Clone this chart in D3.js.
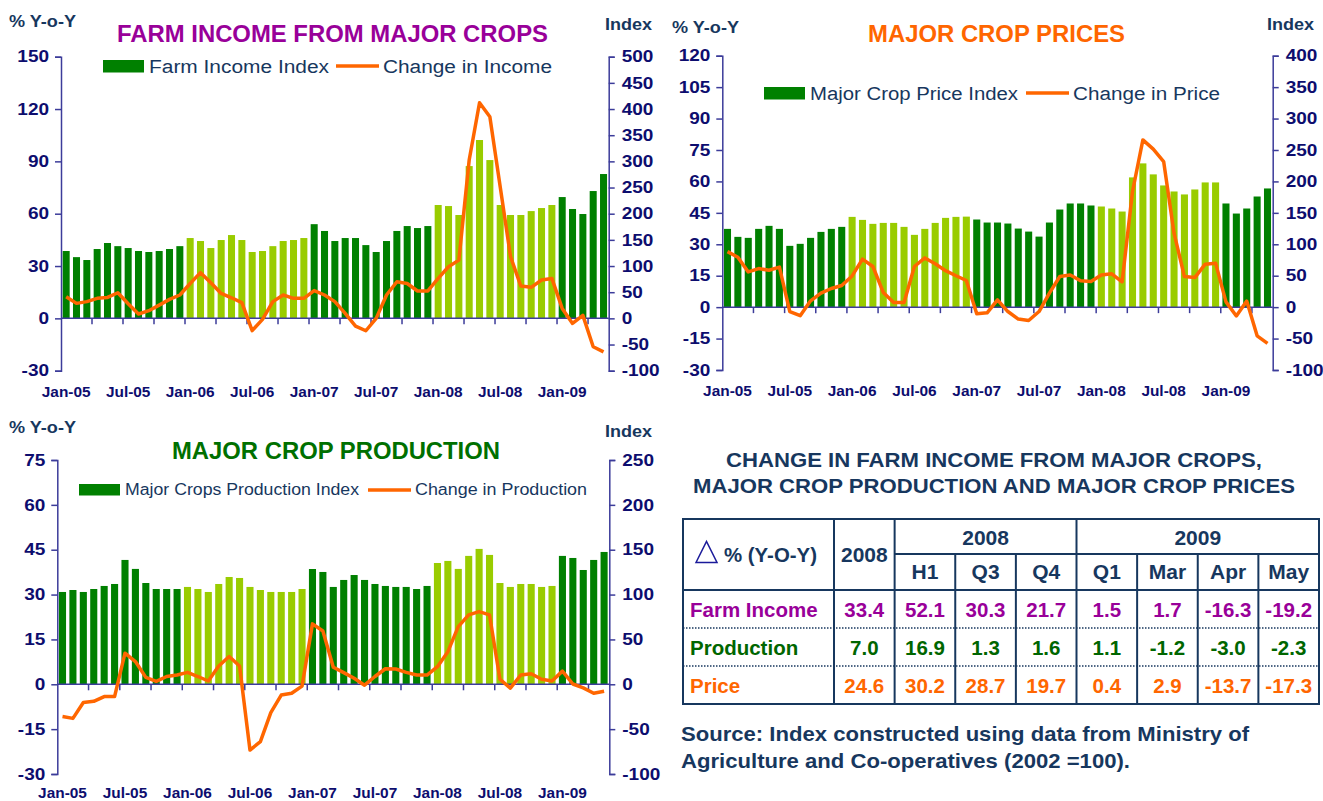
<!DOCTYPE html>
<html>
<head>
<meta charset="utf-8">
<script src="https://cdn.jsdelivr.net/npm/d3@7"></script>
<style>
  body { margin: 0; background: #fff; }
  text { font-family: "Liberation Sans", Arial, sans-serif; }
</style>
</head>
<body>
<div id="canvas"></div>
<script>
// months Jan-05 .. May-09
const months = d3.timeMonths(new Date(2005, 0, 1), new Date(2009, 5, 1)).map(d3.timeFormat('%b-%y'))
const xLabels = ['Jan-05','Jul-05','Jan-06','Jul-06','Jan-07','Jul-07','Jan-08','Jul-08','Jan-09']
const darkYears = ['05','07','09']

// farm income
const incomeIndex = [128.7,117,111.5,132.5,144,138,134.4,128.7,126.8,128.7,132.5,138,
  153.5,147.8,134.4,149.7,159.2,149.7,126.8,128.7,138,147.8,149.7,153.5,
  180,167,147.8,153.5,153.5,140,126.8,147.8,167,176.4,172.6,176.4,
  216.6,214.6,197.5,291,340.8,302.5,216.6,197.5,197.5,205,210.8,216.6,
  231.8,209,199.4,243.3,275.8]
const incomeChange = [12.4,8.6,9.6,11.5,12,14.7,8.4,2.5,4.4,7.6,10.9,13.4,
  20,26.2,20.4,14.3,11.8,9,-7,-0.6,9.6,13.4,11.5,11.5,
  15.9,13.4,9.6,2.9,-4.4,-7.1,0,13.4,21,20,15.7,15.7,
  22.9,29.6,33.4,90.8,123.6,115.6,75.5,35.4,18.5,17.8,22,22.9,
  5.7,-2.9,1.7,-16.3,-19.2]

// crop prices
const priceIndex = [124.5,111.8,110.2,124.5,129.3,124.5,97.5,100.7,110.2,119.7,124.5,127.7,
  143.6,138.8,132.5,134,134,127.7,115,124.5,134,142,143.6,144,
  139.4,134.6,134.6,133,125,120.2,112.2,134.6,155.3,164.9,164.9,161.7,
  160.1,156.9,152.1,206.4,228.7,211.2,193.6,184,179.3,187.2,198.4,198.4,
  164.9,148.9,156.9,176,188.8]
const priceChange = [26.5,23.8,16.8,18.4,17.6,19.1,-2.1,-4.1,3,6.7,8.9,10.3,
  14.9,22.9,19.4,7,2.2,2.2,19.4,23.5,20.7,17.4,15,12.7,
  -3.2,-2.7,3.5,-2.1,-5.7,-6.4,-2.1,6.7,14.6,15.3,12.6,12.2,
  15.3,15.9,12.1,55.2,79.8,75.4,69.5,35.3,14.6,14.1,20.5,21,
  2.5,-4.2,2.9,-13.7,-17.3]

// crop production
const prodIndex = [102.9,105.1,102.9,106.2,109.6,111.8,138.6,128.6,112.9,106.2,106.2,106.2,
  108.5,106.2,102.9,111.8,119.6,118.5,108.5,105.1,102.9,102.9,102.9,106.2,
  128.5,125.2,108.5,116.3,121.8,116.3,111.8,109.6,108.5,108.5,106.2,109.6,
  135.2,137.5,128.6,143.1,150.9,144.2,112.9,108.5,111.8,111.8,108.5,109.6,
  143.1,140.8,127.4,138.6,147.5]
const prodChange = [-10.8,-11.4,-6.1,-5.7,-4.1,-4.1,10.4,7.6,2.3,1,2.6,3.1,
  4,2.6,1.1,6.1,9.3,6.1,-22,-19.2,-9.5,-3.6,-3,-0.6,
  20.2,17.8,5.7,3.9,2,-0.3,2.6,5.2,5.1,4,3.1,3.1,
  5.9,10.9,19.3,23.2,24.3,23.2,1.7,-1.3,3.1,3.5,1.7,1.1,
  4.4,0.1,-1.2,-3,-2.3]

const incomeLeftTicks = [-30,0,30,60,90,120,150]
const incomeRightTicks = [-100,-50,0,50,100,150,200,250,300,350,400,450,500]
const priceLeftTicks = [-30,-15,0,15,30,45,60,75,90,105,120]
const priceRightTicks = [-100,-50,0,50,100,150,200,250,300,350,400]
const prodLeftTicks = [-30,-15,0,15,30,45,60,75]
const prodRightTicks = [-100,-50,0,50,100,150,200,250]

// table
const tableCols = ['2008','H1','Q3','Q4','Q1','Mar','Apr','May']
const tableRows = ['Farm Income','Production','Price']
const farmRow = [33.4,52.1,30.3,21.7,1.5,1.7,-16.3,-19.2]
const prodRow = [7.0,16.9,1.3,1.6,1.1,-1.2,-3.0,-2.3]
const priceRow = [24.6,30.2,28.7,19.7,0.4,2.9,-13.7,-17.3]

const dark = '#008000', light = '#99cc00', orange = '#ff6600'
const axisColor = '#3c3c9a', tickColor = '#0d0d6e', navy = '#17375e'

const width = 1323, height = 801
const svg = d3.select('#canvas').append('svg')
  .attr('width', width).attr('height', height)

function stretch(sel, k) {
  sel.each(function () {
    const L = this.getComputedTextLength()
    d3.select(this).attr('textLength', L * k).attr('lengthAdjust', 'spacingAndGlyphs')
  })
}

function txt(x, y, s, opt) {
  const t = svg.append('text').attr('x', x).attr('y', y).text(s)
    .attr('font-size', opt.size).attr('font-weight', opt.weight || 'bold')
    .attr('fill', opt.fill).attr('text-anchor', opt.anchor || 'start')
  if (opt.len) t.attr('textLength', opt.len).attr('lengthAdjust', 'spacingAndGlyphs')
  else if (opt.k) stretch(t, opt.k)
  return t
}

function drawChart(c) {
  const g = svg.append('g')
  const xs = d3.scaleBand().domain(months).range([c.x0, c.x1])
  const bw = xs.bandwidth()
  const yL = d3.scaleLinear().domain([c.lt[0], c.lt[c.lt.length - 1]]).range([c.bot, c.top])
  const yR = d3.scaleLinear().domain([c.rt[0], c.rt[c.rt.length - 1]]).range([c.bot, c.top])

  g.selectAll('rect.bar').data(c.index).join('rect')
    .attr('class', 'bar')
    .attr('x', (d, i) => xs(months[i]) + bw * 0.16)
    .attr('width', bw * 0.68)
    .attr('y', d => yR(d))
    .attr('height', d => yR(0) - yR(d))
    .attr('fill', (d, i) => darkYears.includes(months[i].slice(4)) ? dark : light)

  // zero line with quarter ticks
  g.append('line').attr('x1', c.x0).attr('x2', c.x1)
    .attr('y1', yL(0)).attr('y2', yL(0))
    .attr('stroke', axisColor).attr('stroke-width', 1.5)
  g.selectAll('line.qt').data(months.filter((m, i) => i > 0 && i % 3 == 0)).join('line')
    .attr('class', 'qt')
    .attr('x1', d => xs(d)).attr('x2', d => xs(d))
    .attr('y1', yL(0)).attr('y2', yL(0) + 6)
    .attr('stroke', axisColor).attr('stroke-width', 1.5)

  g.append('path').datum(c.change)
    .attr('d', d3.line().x((d, i) => xs(months[i]) + bw / 2).y(d => yL(d)))
    .attr('fill', 'none').attr('stroke', orange).attr('stroke-width', 3.5)
    .attr('stroke-linejoin', 'round')

  const la = g.append('g').attr('transform', `translate(${c.x0},0)`)
    .call(d3.axisLeft(yL).tickValues(c.lt).tickFormat(d => String(d)).tickSize(6).tickPadding(6))
  const ra = g.append('g').attr('transform', `translate(${c.x1},0)`)
    .call(d3.axisRight(yR).tickValues(c.rt).tickFormat(d => String(d)).tickSize(6).tickPadding(7))
  ;[la, ra].forEach(a => {
    a.select('.domain').attr('stroke', axisColor).attr('stroke-width', 1.5)
    a.selectAll('.tick line').attr('stroke', axisColor).attr('stroke-width', 1.5)
    a.selectAll('text').attr('font-size', 16.5).attr('font-weight', 'bold')
      .attr('fill', tickColor).attr('font-family', '"Liberation Sans", Arial, sans-serif')
    stretch(a.selectAll('text'), 1.15)
  })

  xLabels.forEach(l => {
    txt(xs(l) + bw / 2, c.labelY, l, { size: 14, fill: tickColor, anchor: 'middle', k: 1.1 })
  })

  txt(c.tx, c.ty, c.title, { size: c.tsize, fill: c.tcolor, anchor: 'middle', len: c.tlen })
  txt(c.pct[0], c.pct[1], '% Y-o-Y', { size: 17, fill: navy, len: 67 })
  txt(c.idx[0], c.idx[1], 'Index', { size: 17, fill: navy, len: 47 })

  const L = c.legend
  svg.append('rect').attr('x', L.rx).attr('y', L.ry).attr('width', 41).attr('height', L.rh)
    .attr('fill', dark)
  txt(L.t1x, L.ty, L.t1, { size: L.size, weight: 'normal', fill: navy, len: L.len1 })
  svg.append('line').attr('x1', L.lx0).attr('x2', L.lx0 + 43)
    .attr('y1', L.ly).attr('y2', L.ly).attr('stroke', orange).attr('stroke-width', 3.5)
  txt(L.t2x, L.ty, L.t2, { size: L.size, weight: 'normal', fill: navy, len: L.len2 })
}

drawChart({
  x0: 61, x1: 608.7, top: 56.7, bot: 370.7, lt: incomeLeftTicks, rt: incomeRightTicks,
  index: incomeIndex, change: incomeChange, labelY: 397,
  title: 'FARM INCOME FROM MAJOR CROPS', tcolor: '#990099', tx: 332.5, ty: 42, tsize: 23, tlen: 431,
  pct: [9, 27], idx: [605, 30],
  legend: { rx: 103, ry: 60, rh: 12.5, t1: 'Farm Income Index', t1x: 149, ty: 72.5, len1: 180,
    lx0: 336, ly: 66, t2: 'Change in Income', t2x: 383, len2: 169, size: 18 }
})

drawChart({
  x0: 722.3, x1: 1272.7, top: 55.7, bot: 370, lt: priceLeftTicks, rt: priceRightTicks,
  index: priceIndex, change: priceChange, labelY: 396,
  title: 'MAJOR CROP PRICES', tcolor: orange, tx: 996.5, ty: 41.7, tsize: 23, tlen: 257,
  pct: [672, 33], idx: [1267, 30],
  legend: { rx: 764, ry: 87, rh: 12.5, t1: 'Major Crop Price Index', t1x: 810, ty: 99.5, len1: 208,
    lx0: 1026, ly: 93, t2: 'Change in Price', t2x: 1073, len2: 147, size: 18 }
})

drawChart({
  x0: 57.3, x1: 609.3, top: 460, bot: 774, lt: prodLeftTicks, rt: prodRightTicks,
  index: prodIndex, change: prodChange, labelY: 798,
  title: 'MAJOR CROP PRODUCTION', tcolor: '#007000', tx: 336, ty: 459, tsize: 24, tlen: 328,
  pct: [9, 433], idx: [605, 437],
  legend: { rx: 79, ry: 484, rh: 11.5, t1: 'Major Crops Production Index', t1x: 125, ty: 495, len1: 234,
    lx0: 368, ly: 490, t2: 'Change in Production', t2x: 415, len2: 172, size: 16 }
})

// ---- table ----
const tg = svg.append('g')
const colX = d3.scaleBand().domain(tableCols).range([834, 1319])
const rowY = d3.scaleBand().domain(tableRows).range([590, 704])
const tx0 = 683, tx1 = 1319, ty0 = 519, tyMid = 554, tyHead = 590, ty1 = 704
const tcw = colX.bandwidth(), trh = rowY.bandwidth()

txt(994, 466.5, 'CHANGE IN FARM INCOME FROM MAJOR CROPS,', { size: 21, fill: navy, anchor: 'middle', len: 536 })
txt(994, 492.5, 'MAJOR CROP PRODUCTION AND MAJOR CROP PRICES', { size: 21, fill: navy, anchor: 'middle', len: 602 })

tg.append('rect').attr('x', tx0).attr('y', ty0).attr('width', tx1 - tx0).attr('height', ty1 - ty0)
  .attr('fill', 'none').attr('stroke', navy).attr('stroke-width', 2)
tableCols.forEach((c, i) => {
  const full = i <= 1 || c == 'Q1'
  tg.append('line').attr('x1', colX(c)).attr('x2', colX(c))
    .attr('y1', full ? ty0 : tyMid).attr('y2', ty1)
    .attr('stroke', navy).attr('stroke-width', 2)
})
tg.append('line').attr('x1', colX('H1')).attr('x2', tx1).attr('y1', tyMid).attr('y2', tyMid)
  .attr('stroke', navy).attr('stroke-width', 2)
tg.append('line').attr('x1', tx0).attr('x2', tx1).attr('y1', tyHead).attr('y2', tyHead)
  .attr('stroke', navy).attr('stroke-width', 2)
tableRows.slice(1).forEach(r => {
  tg.append('line').attr('x1', tx0).attr('x2', tx1).attr('y1', rowY(r)).attr('y2', rowY(r))
    .attr('stroke', navy).attr('stroke-width', 1.5).attr('stroke-dasharray', '1.5,1.5')
})

// header
tg.append('path')
  .attr('d', 'M696,562.5 L706.5,541.5 L717,562.5 Z')
  .attr('fill', 'none').attr('stroke', '#1a1a9a').attr('stroke-width', 1.5)
txt(724, 562, '% (Y-O-Y)', { size: 20.5, fill: navy, len: 93 })
txt(colX('2008') + tcw / 2, 562, '2008', { size: 21, fill: navy, anchor: 'middle' })
txt((colX('H1') + colX('Q1')) / 2, 545, '2008', { size: 21, fill: navy, anchor: 'middle' })
txt((colX('Q1') + tx1) / 2, 545, '2009', { size: 21, fill: navy, anchor: 'middle' })
tableCols.slice(1).forEach(c => {
  txt(colX(c) + tcw / 2, 579, c, { size: 21, fill: navy, anchor: 'middle' })
})

const rowData = [farmRow, prodRow, priceRow]
const rowColor = ['#990099', '#006600', orange]
tableRows.forEach((r, ri) => {
  const y = rowY(r) + trh / 2 + 7.5
  txt(690, y, r, { size: 20.5, fill: rowColor[ri] })
  rowData[ri].forEach((v, ci) => {
    txt(colX(tableCols[ci]) + tcw / 2, y, v.toFixed(1), { size: 20.5, fill: rowColor[ri], anchor: 'middle' })
  })
})

txt(681, 741, 'Source: Index constructed using data from Ministry of', { size: 20.5, fill: navy, len: 568 })
txt(681, 768, 'Agriculture and Co-operatives (2002 =100).', { size: 20.5, fill: navy, len: 449 })
</script>
</body>
</html>
